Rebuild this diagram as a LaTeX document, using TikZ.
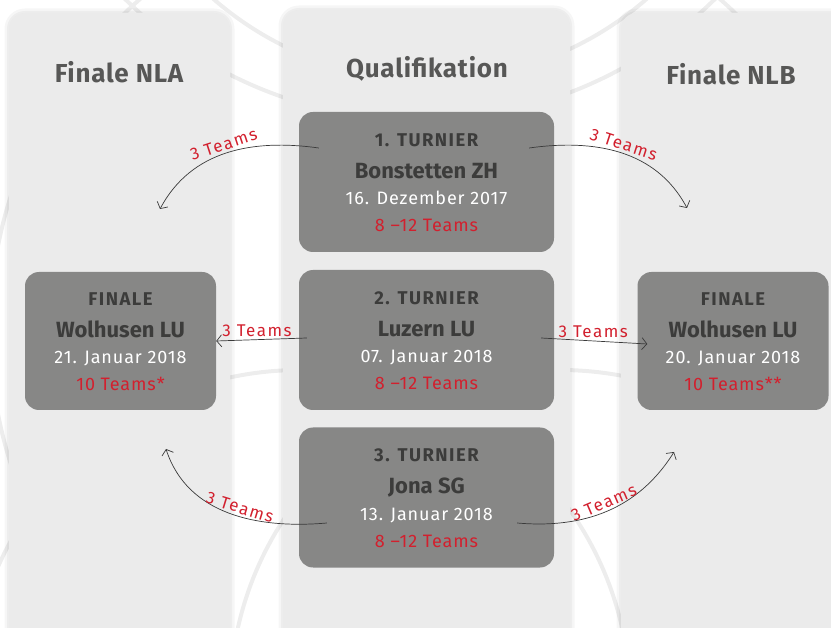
\documentclass[tikz,border=0pt]{standalone}
\usepackage{fontspec}
\setmainfont{Fira Sans}
\usetikzlibrary{arrows.meta}

\definecolor{panelgrey}{HTML}{EBEBEB}
\definecolor{boxgrey}{HTML}{878786}
\definecolor{headgrey}{HTML}{3C3C3B}
\definecolor{titlegrey}{HTML}{575756}
\definecolor{teamred}{HTML}{D2202E}
\definecolor{linegrey}{HTML}{3A3A3A}
\definecolor{swirlgrey}{HTML}{EDEDED}

\tikzset{
  panel/.style={fill=panelgrey, rounded corners=16pt,
    preaction={draw=black, opacity=0.035, line width=9pt},
    preaction={draw=black, opacity=0.035, line width=4pt}},
  tbox/.style={fill=boxgrey, rounded corners=14pt, minimum width=255pt, minimum height=140pt},
  fbox/.style={tbox, minimum width=191pt, minimum height=138pt},
  zeile/.style={anchor=base, inner sep=0pt},
  kopf/.style={zeile, text=headgrey,
    font=\bfseries\fontsize{18.5}{21}\selectfont\addfontfeatures{LetterSpace=8}},
  ort/.style={zeile, text=headgrey, font=\bfseries\fontsize{22}{26}\selectfont},
  datum/.style={zeile, text=white,
    font=\fontsize{18}{21}\selectfont\addfontfeatures{LetterSpace=5}},
  anzahl/.style={zeile, text=teamred,
    font=\fontsize{18}{21}\selectfont\addfontfeatures{LetterSpace=5}},
  titel/.style={anchor=base, text=titlegrey,
    font=\bfseries\fontsize{26}{30}\selectfont\addfontfeatures{LetterSpace=3}},
  pfeil/.style={draw=linegrey, line width=0.7pt, -{Straight Barb[length=5pt,width=12pt]}},
  lbl/.style={text=teamred, inner sep=2.5pt,
    font=\fontsize{17}{20}\selectfont\addfontfeatures{LetterSpace=9}}
}

\begin{document}
\begin{tikzpicture}[x=1pt, y=-1pt]
  \useasboundingbox (0,0) rectangle (831,628);
  \clip (0,0) rectangle (831,628);

  % background swirls
  \foreach \cx/\cy/\r in {420/-300/420, 430/-250/330, 300/700/330, 560/700/330, 430/330/440}
    \draw[swirlgrey, line width=4pt] (\cx,\cy) circle[radius=\r];

  % columns
  \fill[panel] (9,13) rectangle (230,660);
  \fill[panel] (283,10) rectangle (570,660);
  \fill[panel] (621,13) rectangle (860,660);

  \node[titel] (hnla) at (119,83) {Finale NLA};
  \node[titel] (hqual) at (427,78) {Qualifikation};
  \node[titel] (hnlb) at (731,85) {Finale NLB};

  % boxes
  \node[tbox] (t1) at (426.5,182) {};
  \node[tbox] (t2) at (426.5,340) {};
  \node[tbox] (t3) at (426.5,497.5) {};
  \node[fbox] (fl) at (120.5,341) {};
  \node[fbox] (fr) at (733,341) {};

  \foreach \b/\k/\o/\d/\a in {t1/1. TURNIER/Bonstetten ZH/16. Dezember 2017/8 –12 Teams,
                             t2/2. TURNIER/Luzern LU/07. Januar 2018/8 –12 Teams,
                             t3/3. TURNIER/Jona SG/13. Januar 2018/8 –12 Teams,
                             fl/FINALE/Wolhusen LU/21. Januar 2018/10 Teams*,
                             fr/FINALE/Wolhusen LU/20. Januar 2018/10 Teams**} {
    \node[kopf] (\b-k) at ([yshift=35.5pt]\b.center) {\k};
    \node[ort] (\b-o) at ([yshift=3.5pt]\b.center) {\o};
    \node[datum] (\b-d) at ([yshift=-23pt]\b.center) {\d};
    \node[anzahl] (\b-a) at ([yshift=-50pt]\b.center) {\a};
  }

  % connectors
  \coordinate (e1) at (160,209);
  \coordinate (e2) at (687,208);
  \coordinate (e3) at (166,449);
  \coordinate (e4) at (674,452);

  \draw[pfeil] ([xshift=20pt,yshift=34pt]t1.west) to[out=172, in=62]
    node[lbl, sloped, above, pos=0.5] {3 Teams} (e1);
  \draw[pfeil] ([xshift=-25pt,yshift=34pt]t1.east) to[out=8, in=118]
    node[lbl, sloped, above, pos=0.5] {3 Teams} (e2);
  \draw[pfeil] ([xshift=8pt,yshift=2pt]t2.west) --
    node[lbl, above, pos=0.55] {3 Teams} (fl.east);
  \draw[pfeil] ([xshift=-13pt,yshift=2pt]t2.east) --
    node[lbl, above, pos=0.49] {3 Teams} ([xshift=10pt,yshift=-3pt]fr.west);
  \draw[pfeil] ([xshift=28pt,yshift=-25.5pt]t3.west) to[out=185, in=-72]
    node[lbl, sloped, above, pos=0.45] {3 Teams} (e3);
  \draw[pfeil] ([xshift=-37pt,yshift=-25.5pt]t3.east) to[out=-5, in=238]
    node[lbl, sloped, above, pos=0.5] {3 Teams} (e4);
\end{tikzpicture}
\end{document}
